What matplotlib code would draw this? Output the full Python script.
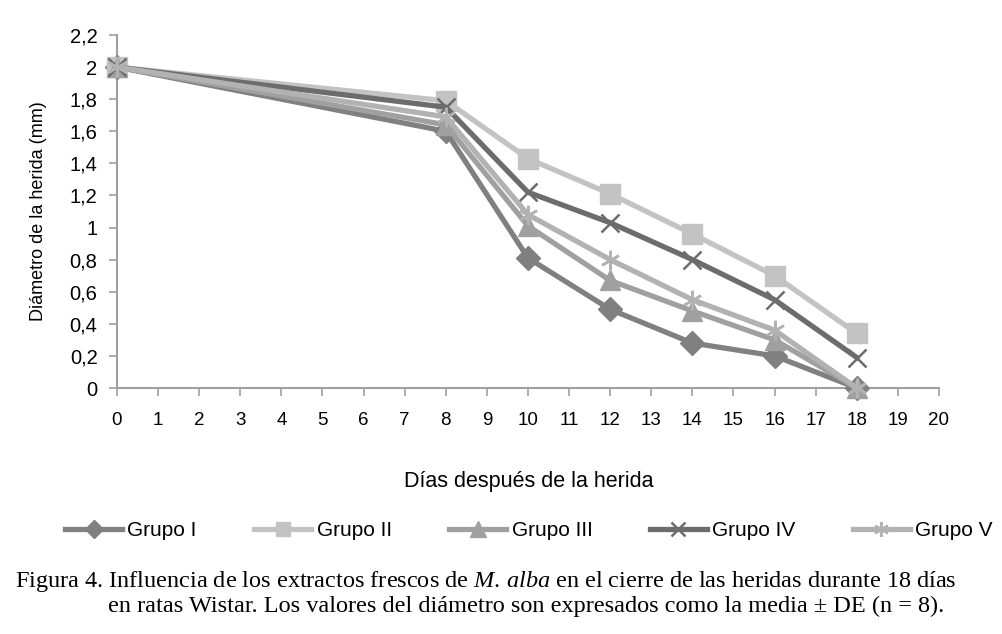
import matplotlib.pyplot as plt
from matplotlib.ticker import FuncFormatter

dias = [0, 8, 10, 12, 14, 16, 18]
grupo_i = [2.0, 1.60, 0.81, 0.49, 0.28, 0.20, 0.0]
grupo_ii = [2.0, 1.79, 1.43, 1.21, 0.96, 0.70, 0.34]
grupo_iii = [2.0, 1.64, 1.01, 0.67, 0.48, 0.30, 0.0]
grupo_iv = [2.0, 1.75, 1.22, 1.03, 0.80, 0.55, 0.19]
grupo_v = [2.0, 1.69, 1.08, 0.80, 0.55, 0.36, 0.0]

series = [
    ('Grupo I', grupo_i, '#808080', 'D', 12.5),
    ('Grupo II', grupo_ii, '#c3c3c3', 's', 14),
    ('Grupo III', grupo_iii, '#a0a0a0', '^', 15),
    ('Grupo IV', grupo_iv, '#6c6c6c', 'x', 12.5),
    ('Grupo V', grupo_v, '#b2b2b2', (6, 2, 0), 14),
]

plt.rcParams['font.family'] = ['Liberation Sans', 'DejaVu Sans']
plt.rcParams['mathtext.fontset'] = 'custom'
plt.rcParams['mathtext.rm'] = 'Liberation Serif'
plt.rcParams['mathtext.it'] = 'Liberation Serif:italic'

fig = plt.figure(figsize=(10.03, 6.34), dpi=100)
ax = fig.add_axes([117 / 1003, 1 - 388 / 634, (939 - 117) / 1003, (388 - 35) / 634])

for nombre, valores, color, marcador, tam in series:
    ax.plot(dias, valores, color=color, lw=3.8, marker=marcador, ms=tam,
            mew=1.8 if marcador in ('x', (6, 2, 0)) else 1, mec=color, label=nombre,
            clip_on=False, zorder=3)

ax.set_xlim(0, 20)
ax.set_ylim(0, 2.2)
ax.set_xticks(range(0, 21))
ax.set_yticks([i * 0.2 for i in range(12)])
ax.yaxis.set_major_formatter(FuncFormatter(lambda v, p: ('%g' % round(v, 1)).replace('.', ',')))
ax.tick_params(labelsize=13.5, color='#a0a0a0', length=6, width=1.2)
ax.tick_params(axis='x', pad=11)
ax.tick_params(axis='y', pad=8, labelsize=14.5)
for lado in ['top', 'right']:
    ax.spines[lado].set_visible(False)
for lado in ['left', 'bottom']:
    ax.spines[lado].set_color('#a0a0a0')
    ax.spines[lado].set_linewidth(1.5)

ax.set_ylabel('Diámetro de la herida (mm)', fontsize=13, labelpad=16)
fig.text(0.527, 1 - 482 / 634, 'Días después de la herida', fontsize=15.5, ha='center', va='center')

fig.legend(loc='center left', bbox_to_anchor=(65 / 1003, 1 - 531 / 634), ncol=5, frameon=False,
           fontsize=15, handlelength=2.75, handletextpad=0.25, columnspacing=2.75,
           borderpad=0, borderaxespad=0, markerscale=0.75)

fig.text(15 / 1003, 1 - 582 / 634,
         'Figura 4. Influencia de los extractos frescos de $\\it{M.\\,alba}$ en el cierre de las heridas durante 18 días',
         family='Liberation Serif', fontsize=17.5, va='center')
fig.text(108 / 1003, 1 - 606 / 634,
         'en ratas Wistar. Los valores del diámetro son expresados como la media ± DE (n = 8).',
         family='Liberation Serif', fontsize=17.5, va='center')

fig.savefig('out.png', dpi=100)
